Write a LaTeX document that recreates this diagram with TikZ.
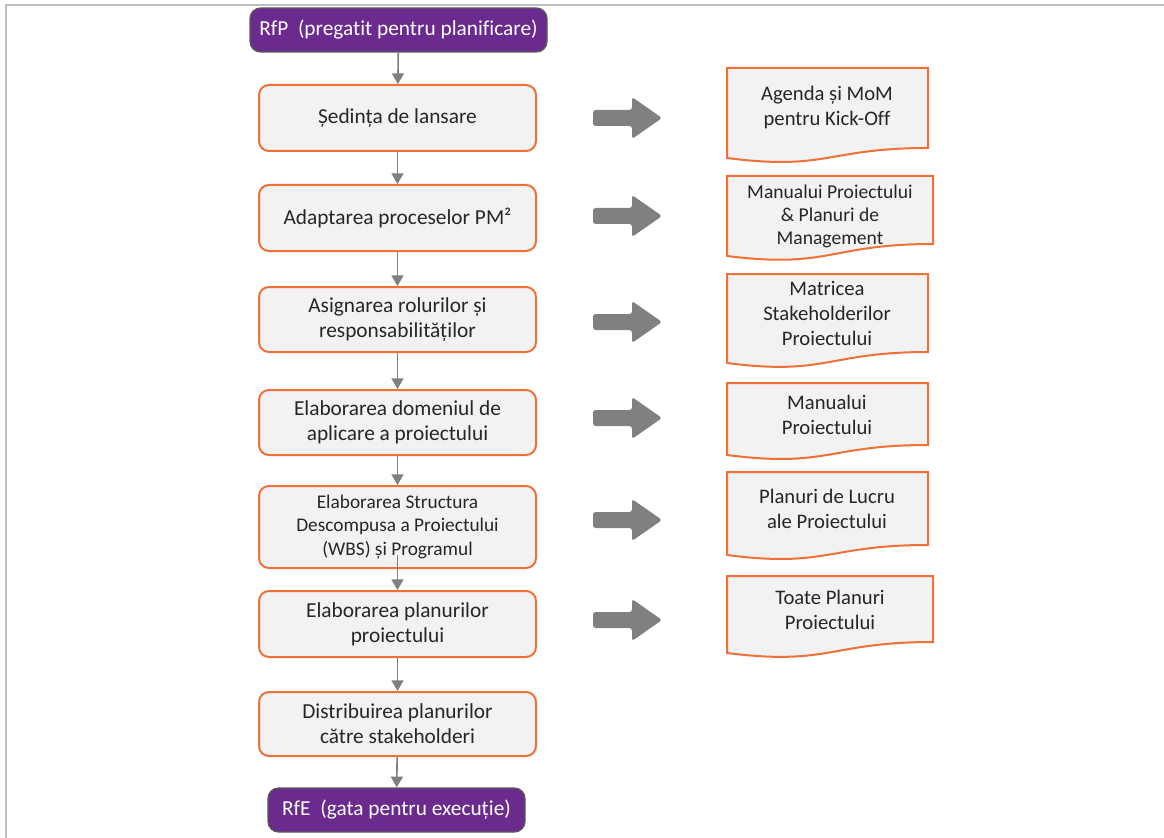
\documentclass[tikz,border=0pt]{standalone}
\usepackage{fontspec}
\setmainfont{Carlito}[Ligatures=NoCommon]
\usetikzlibrary{calc,arrows.meta}
\definecolor{framegray}{HTML}{BFBFBF}
\definecolor{boxfill}{HTML}{F2F2F2}
\definecolor{boxline}{HTML}{F07038}
\definecolor{purplefill}{HTML}{6A2A8E}
\definecolor{purpleline}{HTML}{5A5A5A}
\definecolor{connector}{HTML}{7F7F7F}
\definecolor{arrgray}{HTML}{808080}

% block arrow between a step and its deliverable, centred on height #1
\newcommand{\blockarr}[1]{%
  \fill[arrgray, rounded corners=2pt]
    (593,#1-8) -- (632,#1-8) -- (632,#1-21) -- (662,#1)
    -- (632,#1+21) -- (632,#1+8) -- (593,#1+8) -- cycle;}

% document shape: left x, right x, top, bottom-left, bottom-right
\newcommand{\docshape}[5]{%
  \filldraw[docline] (#1,#3) -- (#2,#3) -- (#2,#5)
    .. controls ({(#1+#2)/2},#5) and ({(#1+#2)/2},#4+13) .. (#1,#4) -- cycle;}

\begin{document}
\begin{tikzpicture}[x=0.75pt,y=-0.75pt,
  font=\fontsize{16pt}{18.75pt}\selectfont,
  stepbox/.style={draw=boxline, fill=boxfill, line width=1.5pt,
    rounded corners=7.5pt, inner sep=0pt, align=center,
    minimum width=277*0.75pt, text=black!85},
  endbox/.style={draw=purpleline, fill=purplefill, line width=1pt,
    rounded corners=8pt, inner sep=0pt, align=center,
    minimum height=44*0.75pt, text=white,
    font=\fontsize{16pt}{18.75pt}\selectfont},
  doctext/.style={inner sep=0pt, align=center, text=black!85,
    font=\fontsize{15.5pt}{18.75pt}\selectfont},
  docline/.style={draw=boxline, fill=boxfill, line width=1.5pt},
  flow/.style={draw=connector, line width=1.2pt,
    -{Triangle[length=8pt,width=9pt]}}]

\useasboundingbox (0,0) rectangle (1164,838);
% frame
\draw[framegray, line width=1.5pt] (6,838) -- (6,5) -- (1164,5);

% process steps
\node[endbox, minimum width=297*0.75pt] (rfp) at (398.5,30) {RfP\ \ (pregatit pentru planificare)};
\node[stepbox, minimum height=66*0.75pt] (s1) at (397.5,118) {Ședința de lansare};
\node[stepbox, minimum height=66*0.75pt] (s2) at (397.5,218) {Adaptarea proceselor PM²};
\node[stepbox, minimum height=65*0.75pt] (s3) at (397.5,319.5) {Asignarea rolurilor și\\responsabilităților};
\node[stepbox, minimum height=65*0.75pt] (s4) at (397.5,422.5) {Elaborarea domeniul de\\aplicare a proiectului};
\node[stepbox, minimum height=82*0.75pt,
  font=\fontsize{14.5pt}{17.6pt}\selectfont] (s5) at (397.5,527)
  {Elaborarea Structura\\Descompusa a Proiectului\\(WBS) și Programul};
\node[stepbox, minimum height=66*0.75pt] (s6) at (397.5,624) {Elaborarea planurilor\\proiectului};
\node[stepbox, minimum height=64*0.75pt] (s7) at (397.5,724) {Distribuirea planurilor\\către stakeholderi};
\node[endbox, minimum width=257*0.75pt] (rfe) at (396.5,810) {RfE\ \ (gata pentru execuție)};

% connectors
\draw[flow] (rfp) -- (s1);
\draw[flow] (s1) -- (s2);
\draw[flow] (s2) -- (s3);
\draw[flow] (s3) -- (s4);
\draw[flow] (s4) -- (s5);
\draw[flow] ($(s5.south)+(0,-14)$) -- (s6);
\draw[flow] (s6) -- (s7);
\draw[flow] (s7) -- (rfe);

% block arrows
\blockarr{118}
\blockarr{216}
\blockarr{322}
\blockarr{418}
\blockarr{520}
\blockarr{620}

% deliverables
\docshape{727}{928}{68}{158}{148}
\docshape{727}{933}{176}{256}{244}
\docshape{727}{928}{274}{363}{352}
\docshape{727}{928}{383}{455}{445}
\docshape{727}{928}{472}{555}{545}
\docshape{727}{933}{576}{653}{642}

\node[doctext] (d1) at (827,107.5) {Agenda și MoM\\pentru Kick-Off};
\node[doctext, font=\fontsize{14.7pt}{17.25pt}\selectfont] (d2) at (830,216)
  {Manualui Proiectului\\\&\ Planuri de\\Management};
\node[doctext] (d3) at (827,313) {Matricea\\Stakeholderilor\\Proiectului};
\node[doctext] (d4) at (827,414.5) {Manualui\\Proiectului};
\node[doctext] (d5) at (827,508.5) {Planuri de Lucru\\ale Proiectului};
\node[doctext] (d6) at (830,609.5) {Toate Planuri\\Proiectului};
\end{tikzpicture}
\end{document}
